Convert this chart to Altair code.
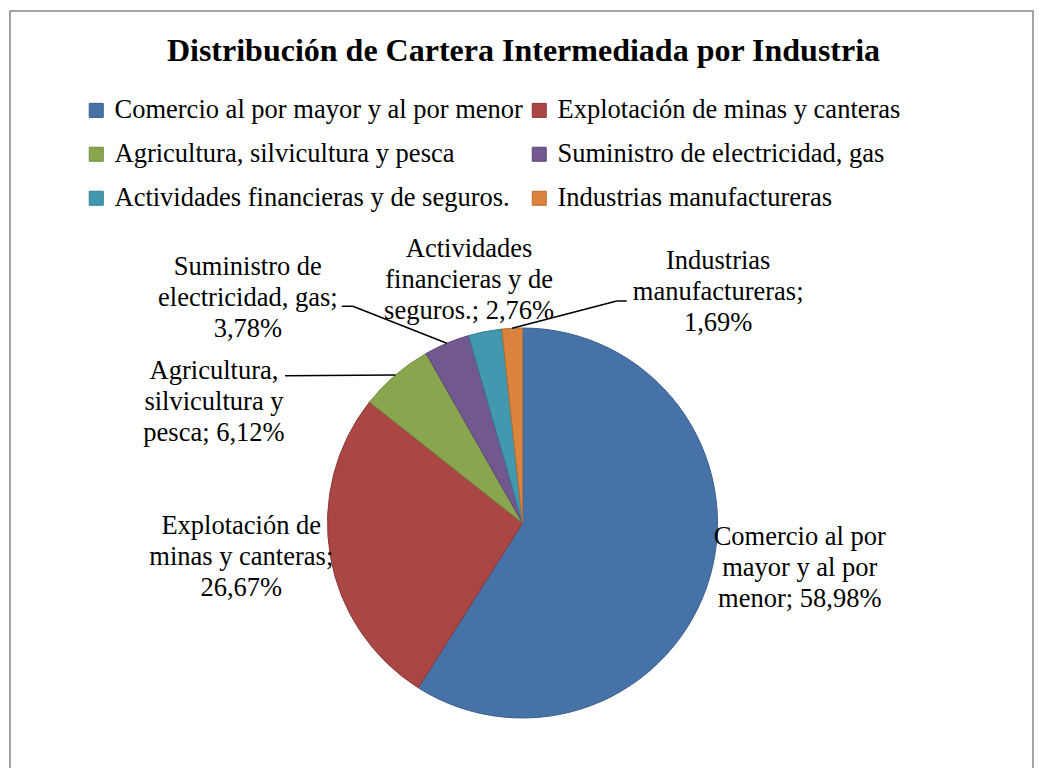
import altair as alt
import pandas as pd

# ---------------- data ----------------
categories = [
    "Comercio al por mayor y al por menor",
    "Explotación de minas y canteras",
    "Agricultura, silvicultura y pesca",
    "Suministro de electricidad, gas",
    "Actividades financieras y de seguros.",
    "Industrias manufactureras",
]
shares = [58.98, 26.67, 6.12, 3.78, 2.76, 1.69]

# wrapped label names as they appear on the chart (text only)
label_names = [
    "Comercio al por\nmayor y al por\nmenor",
    "Explotación de\nminas y canteras",
    "Agricultura,\nsilvicultura y\npesca",
    "Suministro de\nelectricidad, gas",
    "Actividades\nfinancieras y de\nseguros.",
    "Industrias\nmanufactureras",
]
label_seps = ["; ", ";\n", "; ", ";\n", "; ", ";\n"]

# ---------------- styles / layout ----------------
fills = ["#4672A8", "#AA4643", "#89A54E", "#71588F", "#4198AF", "#DB843D"]
strokes = ["#3A5F8C", "#8C3836", "#71893F", "#5C4776", "#357D91", "#B66D31"]

W, H = 1023, 757             # view size (border frame)
CX, CY, R = 512.5, 512, 195  # pie centre / radius inside the view

# label centre offsets (first line) from the slice edge point at its mid-angle
label_dx = [90, -89, -181.5, -199, -16, 206]
label_dy = [-40, -30, -4, -76, -83, -67]
# leader lines: elbow and end offsets from the slice edge point
has_leader = [False, False, True, True, False, True]
elbow_dx = [0, 0, -110.5, -94, 0, 104.6]
elbow_dy = [0, 0, 0.7, -37, 0, -27.3]
end_dx = [0, 0, -110.5, -105, 0, 114.6]
end_dy = [0, 0, 0.7, -37, 0, -27.3]

FONT = "Liberation Serif"


def fmt(v):
    return f"{v:.2f}".replace(".", ",") + "%"


df = pd.DataFrame({
    "category": categories,
    "share": shares,
    "order": list(range(len(categories))),
    "label": [n + s + fmt(v) for n, s, v in zip(label_names, label_seps, shares)],
    "ldx": label_dx, "ldy": label_dy,
    "leader": has_leader,
    "bdx": elbow_dx, "bdy": elbow_dy,
    "tdx": end_dx, "tdy": end_dy,
})

base = alt.Chart(df).transform_joinaggregate(
    total="sum(share)"
).transform_window(
    cum="sum(share)", sort=[alt.SortField("order")], frame=[None, 0]
).transform_calculate(
    mid="2*PI*(datum.cum - datum.share/2)/datum.total"
).transform_calculate(
    ex=f"{CX} + {R}*sin(datum.mid)",
    ey=f"{CY} - {R}*cos(datum.mid)",
).transform_calculate(
    lx="datum.ex + datum.ldx", ly="datum.ey + datum.ldy",
    bx="datum.ex + datum.bdx", by="datum.ey + datum.bdy",
    tx="datum.ex + datum.tdx", ty="datum.ey + datum.tdy",
)

legend = alt.Legend(
    title=None, orient="none", legendX=73, legendY=86, columns=2,
    direction="horizontal",
    columnPadding=3, rowPadding=17, symbolType="square", symbolSize=196,
    symbolStrokeWidth=1, labelFont=FONT, labelFontSize=26.5,
    labelColor="black", labelOffset=5, labelLimit=0, padding=0,
)

pie = alt.Chart(df).mark_arc(outerRadius=R, strokeWidth=1).encode(
    theta=alt.Theta("share:Q", stack=True),
    color=alt.Color("category:N", scale=alt.Scale(domain=categories, range=fills), legend=legend),
    stroke=alt.Stroke("category:N", scale=alt.Scale(domain=categories, range=strokes), legend=legend),
    order=alt.Order("order:Q"),
    x=alt.value(CX),
    y=alt.value(CY),
)

leaders = base.transform_filter("datum.leader")
rule1 = leaders.mark_rule(color="black", strokeWidth=1.5).encode(
    x=alt.X("ex:Q", scale=None, axis=None), y=alt.Y("ey:Q", scale=None, axis=None),
    x2="bx:Q", y2="by:Q",
)
rule2 = leaders.mark_rule(color="black", strokeWidth=1.5).encode(
    x=alt.X("bx:Q", scale=None, axis=None), y=alt.Y("by:Q", scale=None, axis=None),
    x2="tx:Q", y2="ty:Q",
)

labels = base.mark_text(
    font=FONT, fontSize=26.5, lineHeight=31, lineBreak="\n",
    align="center", baseline="middle", color="black",
).encode(
    x=alt.X("lx:Q", scale=None, axis=None),
    y=alt.Y("ly:Q", scale=None, axis=None),
    text="label:N",
)

frame = alt.Chart(pd.DataFrame({"k": [0]})).mark_rect(
    filled=False, stroke="#878787", strokeWidth=1.5
).encode(
    x=alt.value(0), x2=alt.value(W), y=alt.value(0), y2=alt.value(H + 40)
)

chart = alt.layer(frame, pie, rule1, rule2, labels).properties(
    width=W, height=H,
    title=alt.TitleParams(
        text="Distribución de Cartera Intermediada por Industria",
        font=FONT, fontSize=32, fontWeight="bold", color="black",
        anchor="middle", frame="group", orient="top", offset=-73,
        baseline="middle", dx=2,
    ),
    autosize=alt.AutoSizeParams(type="none"),
    padding={"left": 2, "top": 3, "right": 1, "bottom": 0},
).configure_view(stroke=None)

chart.save("out.html", embed_options={"renderer": "svg", "actions": False})
